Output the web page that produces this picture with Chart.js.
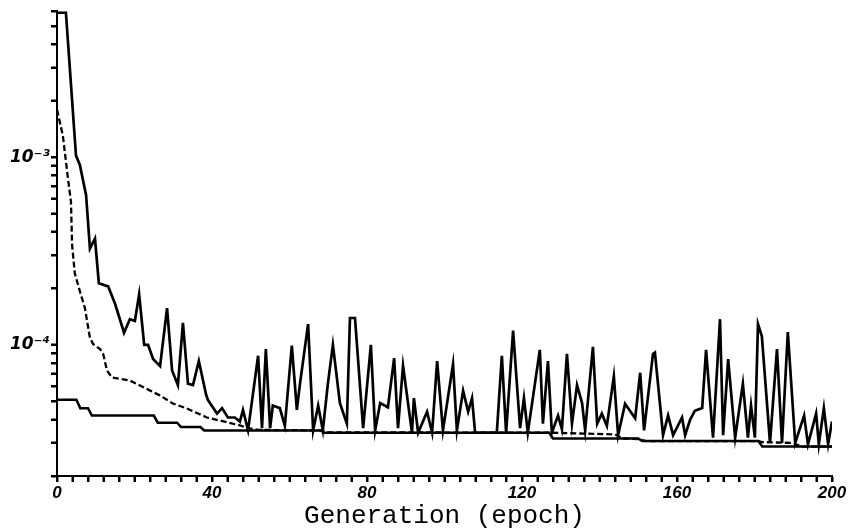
<!DOCTYPE html>
<html>
<head>
<meta charset="utf-8">
<script src="https://cdn.jsdelivr.net/npm/chart.js@4.4.1/dist/chart.umd.min.js"></script>
<style>
    html, body { margin: 0; padding: 0; background: #fff; }
    #wrap { width: 851px; height: 532px; }
</style>
</head>
<body>
<div id="wrap"><canvas id="lossChart" width="851" height="532"></canvas></div>
<script>
// upper solid curve
const worstEpochs = [0, 2.3, 4.9, 5.9, 7.5, 8.5, 9.8, 10.8, 13.2, 15, 17.3, 18.8, 20.1, 21.2, 22.5, 23.5, 24.8, 26.6, 28.4, 29.7,
    31.2, 32.5, 33.8, 35.1, 36.6, 38.5, 39, 41.3, 42.6, 44.1, 45.9, 47.2, 48, 49.3, 51.9, 52.9, 53.9, 55, 55.7, 57.5,
    58.8, 60.6, 61.9, 62.7, 64.8, 66.1, 67.4, 68.6, 69.9, 71.2, 73, 74.8, 75.6, 76.9, 79, 81, 82.1, 83.4, 85.4, 87,
    88, 89.3, 91.6, 92.1, 93.2, 95.5, 96.8, 98.1, 99.6, 102.2, 103.2, 104.8, 106.1, 107.1, 107.9, 113.5, 114.8, 115.9, 117.7, 119.5,
    120.5, 121.5, 124.6, 125.4, 126.7, 127.7, 129.3, 130.3, 131.6, 132.9, 134.2, 135.5, 136.3, 138.3, 139.4, 140.6, 141.9, 143.7, 144.8, 146.6,
    149.2, 150.5, 151.5, 153.8, 154.3, 156.4, 157.7, 159, 161.3, 162.1, 163.4, 164.6, 166.5, 167.5, 169.3, 171.1, 171.9, 173.2, 175, 177,
    178.3, 179.1, 180.1, 180.9, 181.9, 184, 185.8, 187.1, 188.6, 190.5, 192.8, 193.8, 195.9, 196.6, 197.9, 199, 200];
const worstLoss = [5.9e-3, 5.9e-3, 1.02e-3, 9.1e-4, 6.3e-4, 3.26e-4, 3.68e-4, 2.13e-4, 2.05e-4, 1.65e-4, 1.16e-4, 1.37e-4, 1.34e-4, 1.86e-4, 1.0e-4, 1.0e-4, 8.4e-5, 7.7e-5, 1.57e-4, 7.3e-5,
    6.1e-5, 1.31e-4, 6.2e-5, 6.1e-5, 8.2e-5, 5.4e-5, 5.06e-5, 4.3e-5, 4.6e-5, 4.1e-5, 4.1e-5, 3.9e-5, 4.5e-5, 3.5e-5, 8.75e-5, 3.6e-5, 9.5e-5, 3.6e-5, 4.75e-5, 4.6e-5,
    3.7e-5, 9.9e-5, 4.5e-5, 6.2e-5, 1.29e-4, 3.5e-5, 4.75e-5, 3.5e-5, 6.2e-5, 1.0e-4, 4.9e-5, 3.8e-5, 1.39e-4, 1.39e-4, 3.6e-5, 1.0e-4, 3.5e-5, 4.9e-5, 4.65e-5, 8.5e-5,
    3.6e-5, 7.75e-5, 3.4e-5, 5.2e-5, 3.4e-5, 4.4e-5, 3.4e-5, 8.2e-5, 3.5e-5, 7.9e-5, 3.5e-5, 5.7e-5, 4.4e-5, 5.2e-5, 3.4e-5, 3.4e-5, 8.75e-5, 3.4e-5, 1.19e-4, 3.6e-5,
    5.2e-5, 3.4e-5, 9.4e-5, 3.8e-5, 8.2e-5, 3.4e-5, 4.2e-5, 3.55e-5, 8.95e-5, 3.8e-5, 6.1e-5, 4.9e-5, 3.5e-5, 9.75e-5, 3.8e-5, 4.3e-5, 3.7e-5, 6.8e-5, 3.3e-5, 4.85e-5,
    4.06e-5, 7.1e-5, 3.5e-5, 8.95e-5, 9.1e-5, 3.3e-5, 4.2e-5, 3.3e-5, 4.1e-5, 3.3e-5, 4.0e-5, 4.45e-5, 4.6e-5, 9.4e-5, 3.2e-5, 1.37e-4, 3.3e-5, 8.4e-5, 3.2e-5, 6.2e-5,
    3.2e-5, 4.75e-5, 3.2e-5, 1.29e-4, 1.11e-4, 3.0e-5, 9.5e-5, 3.0e-5, 1.17e-4, 3.0e-5, 4.2e-5, 2.95e-5, 4.3e-5, 2.95e-5, 4.6e-5, 2.95e-5, 3.9e-5];

// dashed curve
const meanEpochs = [0, 1.5, 2.8, 3.6, 3.9, 4.6, 5.9, 7.2, 8.5, 9.3, 11.1, 11.9, 12.9, 14.2, 18.8, 21.4, 26.6, 29.9, 33.5, 38.7,
    43.9, 47.2, 49.3, 52, 68, 70, 128, 144, 146, 150, 152, 181, 182, 190, 192, 200];
const meanLoss = [1.79e-3, 1.31e-3, 7.8e-4, 5.8e-4, 3.4e-4, 2.4e-4, 1.93e-4, 1.57e-4, 1.09e-4, 1.01e-4, 9.5e-5, 8.96e-5, 7.3e-5, 6.7e-5, 6.45e-5, 6.07e-5, 5.37e-5, 4.87e-5, 4.58e-5, 4.1e-5,
    3.87e-5, 3.72e-5, 3.6e-5, 3.52e-5, 3.5e-5, 3.42e-5, 3.4e-5, 3.33e-5, 3.17e-5, 3.15e-5, 3.07e-5, 3.07e-5, 3.03e-5, 3.0e-5, 2.87e-5, 2.87e-5];

// lower solid curve
const bestEpochs = [0, 5, 6, 8, 9, 25, 26, 31, 32, 37, 38, 68, 69, 127, 128, 150, 151, 181, 182, 200];
const bestLoss = [5.1e-5, 5.1e-5, 4.6e-5, 4.6e-5, 4.2e-5, 4.2e-5, 3.85e-5, 3.85e-5, 3.65e-5, 3.65e-5, 3.5e-5, 3.5e-5, 3.4e-5, 3.4e-5, 3.17e-5, 3.17e-5, 3.07e-5, 3.07e-5, 2.87e-5, 2.87e-5];

// axes
const yTickValues = [2e-5, 3e-5, 4e-5, 5e-5, 6e-5, 7e-5, 8e-5, 9e-5, 1e-4, 2e-4, 3e-4, 4e-4, 5e-4, 6e-4, 7e-4, 8e-4, 9e-4, 1e-3, 2e-3, 3e-3, 4e-3, 5e-3, 6e-3];
const yLabelValues = [1e-3, 1e-4];
const yLabelTexts = ['10\u207B\u00B3', '10\u207B\u2074'];
const xLabelValues = [0, 40, 80, 120, 160, 200];

function toPoints(xs, ys) {
    return xs.map((x, i) => ({ x: x, y: ys[i] }));
}

// short outward tick marks on both axes
const tickMarks = {
    id: 'tickMarks',
    afterDraw(chart) {
        const { ctx } = chart;
        const xs = chart.scales.x;
        const ys = chart.scales.y;
        ctx.save();
        ctx.strokeStyle = '#000';
        ctx.lineWidth = 2;
        ctx.beginPath();
        xs.ticks.forEach(t => {
            const px = Math.round(xs.getPixelForValue(t.value));
            ctx.moveTo(px, xs.top);
            ctx.lineTo(px, xs.top + 6);
        });
        ys.ticks.forEach(t => {
            const py = Math.round(ys.getPixelForValue(t.value));
            ctx.moveTo(ys.right, py);
            ctx.lineTo(ys.right - 6, py);
        });
        ctx.stroke();
        ctx.restore();
    }
};

const ctx = document.getElementById('lossChart').getContext('2d');
new Chart(ctx, {
    type: 'line',
    data: {
        datasets: [
            {
                label: 'best',
                data: toPoints(bestEpochs, bestLoss),
                borderColor: '#000',
                borderWidth: 2.5,
                pointRadius: 0,
                tension: 0
            },
            {
                label: 'mean',
                data: toPoints(meanEpochs, meanLoss),
                borderColor: '#000',
                borderWidth: 2.3,
                borderDash: [6, 3],
                pointRadius: 0,
                tension: 0
            },
            {
                label: 'worst',
                data: toPoints(worstEpochs, worstLoss),
                borderColor: '#000',
                borderWidth: 2.7,
                pointRadius: 0,
                tension: 0
            }
        ]
    },
    options: {
        responsive: false,
        animation: false,
        layout: { padding: { left: 0, right: 19, top: 8, bottom: 0 } },
        plugins: {
            legend: { display: false },
            tooltip: { enabled: false }
        },
        scales: {
            x: {
                type: 'linear',
                min: 0,
                max: 200,
                afterFit: scale => { scale.height = 56; },
                border: { color: '#000', width: 2 },
                grid: { drawOnChartArea: false, tickLength: 6, tickColor: '#000', tickWidth: 2 },
                ticks: {
                    stepSize: 4,
                    autoSkip: false,
                    maxRotation: 0,
                    padding: 1,
                    color: '#000',
                    font: { family: 'Liberation Sans', size: 17, style: 'italic', weight: 'bold' },
                    callback: value => xLabelValues.includes(value) ? String(value) : ''
                },
                title: {
                    display: true,
                    text: 'Generation (epoch)',
                    color: '#000',
                    padding: 0,
                    font: { family: 'Liberation Mono', size: 26, weight: 'normal' }
                }
            },
            y: {
                type: 'logarithmic',
                min: 2e-5,
                max: 6e-3,
                afterFit: scale => { scale.width = 57; },
                afterBuildTicks: scale => { scale.ticks = yTickValues.map(v => ({ value: v })); },
                border: { color: '#000', width: 2 },
                grid: { drawOnChartArea: false, tickLength: 6, tickColor: '#000', tickWidth: 2 },
                ticks: {
                    autoSkip: false,
                    padding: 1,
                    color: '#000',
                    font: { family: 'DejaVu Sans', size: 17, style: 'italic', weight: 'bold' },
                    callback: value => {
                        const i = yLabelValues.findIndex(v => Math.abs(v - value) / v < 1e-6);
                        return i >= 0 ? yLabelTexts[i] : '';
                    }
                }
            }
        }
    },
    plugins: [tickMarks]
});
</script>
</body>
</html>
